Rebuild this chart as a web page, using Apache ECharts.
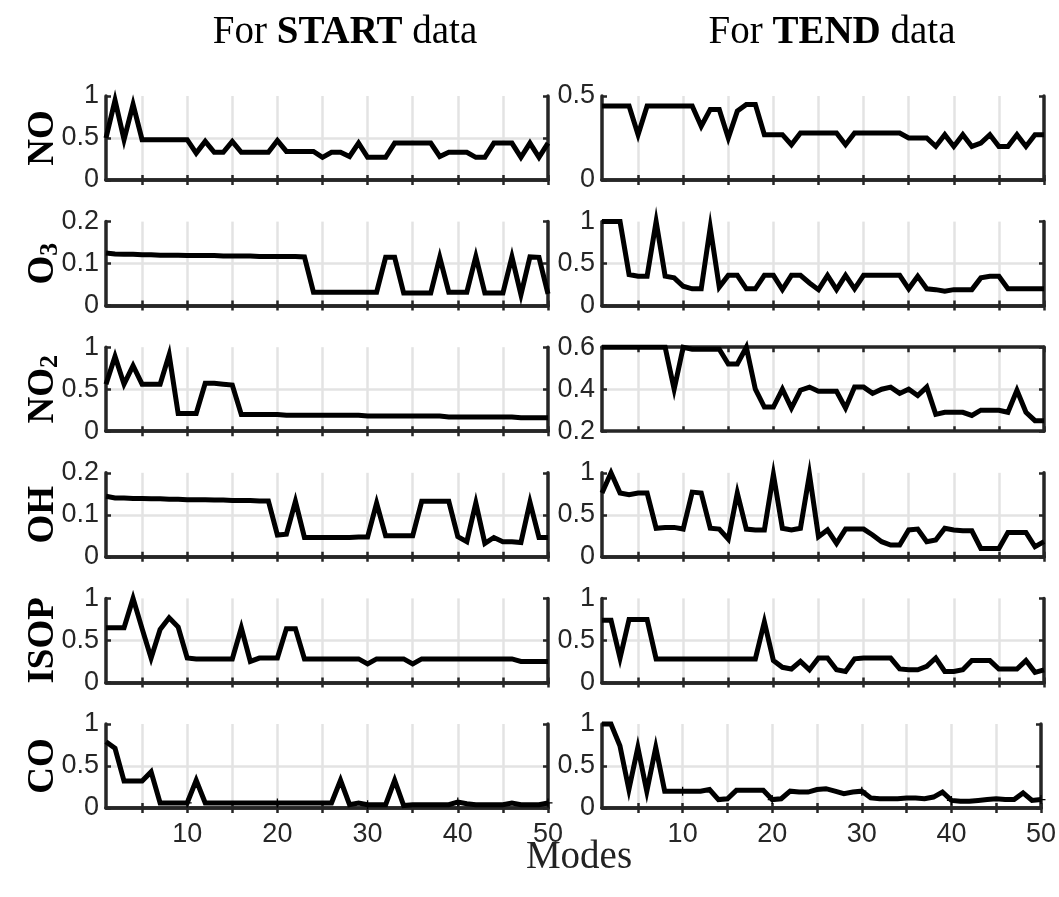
<!DOCTYPE html>
<html><head><meta charset="utf-8">
<script src="https://cdn.jsdelivr.net/npm/echarts@6/dist/echarts.min.js"></script>
<style>html,body{margin:0;padding:0;background:#fff}#c{width:1059px;height:897px}</style>
</head><body><div id="c"></div>
<script>
const modes = ['1','2','3','4','5','6','7','8','9','10','11','12','13','14','15','16','17','18','19','20','21','22','23','24','25','26','27','28','29','30','31','32','33','34','35','36','37','38','39','40','41','42','43','44','45','46','47','48','49','50'];
const columnTitles = ['START', 'TEND'];
const rowLabels = ['NO', 'O3', 'NO2', 'OH', 'ISOP', 'CO'];

const startNO = [0.50,0.95,0.48,0.90,0.48,0.48,0.48,0.48,0.48,0.48, 0.32,0.46,0.33,0.33,0.46,0.33,0.33,0.33,0.33,0.47, 0.34,0.34,0.34,0.34,0.27,0.33,0.33,0.28,0.44,0.27, 0.27,0.27,0.44,0.44,0.44,0.44,0.44,0.28,0.33,0.33, 0.33,0.27,0.27,0.44,0.44,0.44,0.27,0.44,0.27,0.44];
const startO3 = [0.125,0.123,0.122,0.122,0.121,0.121,0.120,0.120,0.120,0.119, 0.119,0.119,0.119,0.118,0.118,0.118,0.118,0.117,0.117,0.117, 0.117,0.117,0.116,0.032,0.032,0.032,0.032,0.032,0.032,0.032, 0.032,0.115,0.115,0.030,0.030,0.030,0.030,0.115,0.032,0.032, 0.032,0.117,0.030,0.030,0.030,0.116,0.026,0.116,0.115,0.028];
const startNO2 = [0.56,0.89,0.56,0.78,0.56,0.56,0.56,0.91,0.21,0.21, 0.21,0.57,0.57,0.56,0.55,0.20,0.20,0.20,0.20,0.20, 0.19,0.19,0.19,0.19,0.19,0.19,0.19,0.19,0.19,0.18, 0.18,0.18,0.18,0.18,0.18,0.18,0.18,0.18,0.17,0.17, 0.17,0.17,0.17,0.17,0.17,0.17,0.16,0.16,0.16,0.16];
const startOH = [0.144,0.140,0.140,0.139,0.139,0.138,0.138,0.137,0.137,0.136, 0.136,0.136,0.135,0.135,0.134,0.134,0.134,0.133,0.133,0.052, 0.054,0.132,0.046,0.046,0.046,0.046,0.046,0.046,0.047,0.047, 0.128,0.050,0.050,0.050,0.050,0.132,0.132,0.132,0.132,0.048, 0.036,0.128,0.032,0.046,0.036,0.036,0.034,0.130,0.046,0.046];
const startISOP = [0.65,0.65,0.65,1.00,0.64,0.29,0.63,0.77,0.66,0.29, 0.28,0.28,0.28,0.28,0.28,0.65,0.25,0.29,0.29,0.29, 0.64,0.64,0.28,0.28,0.28,0.28,0.28,0.28,0.28,0.22, 0.28,0.28,0.28,0.28,0.22,0.28,0.28,0.28,0.28,0.28, 0.28,0.28,0.28,0.28,0.28,0.28,0.25,0.25,0.25,0.25];
const startCO = [0.79,0.71,0.32,0.32,0.32,0.43,0.06,0.06,0.06,0.06, 0.33,0.06,0.06,0.06,0.06,0.06,0.06,0.06,0.06,0.06, 0.06,0.06,0.06,0.06,0.06,0.06,0.33,0.04,0.06,0.04, 0.04,0.04,0.33,0.03,0.04,0.04,0.04,0.04,0.04,0.07, 0.05,0.04,0.04,0.04,0.04,0.06,0.04,0.04,0.04,0.06];

const tendNO = [0.44,0.44,0.44,0.44,0.27,0.44,0.44,0.44,0.44,0.44, 0.44,0.32,0.42,0.42,0.25,0.41,0.45,0.45,0.27,0.27, 0.27,0.21,0.28,0.28,0.28,0.28,0.28,0.21,0.28,0.28, 0.28,0.28,0.28,0.28,0.25,0.25,0.25,0.20,0.27,0.20, 0.27,0.20,0.22,0.27,0.20,0.20,0.27,0.20,0.27,0.27];
const tendO3 = [1.00,1.00,1.00,0.37,0.35,0.35,1.00,0.35,0.33,0.23, 0.20,0.20,0.93,0.22,0.36,0.36,0.20,0.20,0.36,0.36, 0.19,0.36,0.36,0.27,0.19,0.36,0.19,0.36,0.20,0.36, 0.36,0.36,0.36,0.36,0.20,0.35,0.20,0.19,0.17,0.19, 0.19,0.19,0.33,0.35,0.35,0.20,0.20,0.20,0.20,0.20];
const tendNO2 = [0.60,0.60,0.60,0.60,0.60,0.60,0.60,0.60,0.40,0.60, 0.59,0.59,0.59,0.59,0.52,0.52,0.60,0.40,0.315,0.315, 0.40,0.31,0.395,0.41,0.39,0.39,0.39,0.31,0.41,0.41, 0.38,0.40,0.41,0.38,0.40,0.37,0.41,0.28,0.29,0.29, 0.29,0.275,0.30,0.30,0.30,0.29,0.395,0.29,0.25,0.25];
const tendOH = [0.76,1.00,0.76,0.74,0.76,0.76,0.34,0.35,0.35,0.33, 0.77,0.76,0.34,0.33,0.21,0.76,0.33,0.32,0.32,0.98, 0.34,0.32,0.34,0.98,0.24,0.32,0.16,0.33,0.33,0.33, 0.26,0.18,0.14,0.14,0.32,0.33,0.18,0.20,0.34,0.32, 0.31,0.31,0.10,0.10,0.10,0.29,0.29,0.29,0.12,0.18];
const tendISOP = [0.74,0.74,0.29,0.75,0.75,0.75,0.28,0.28,0.28,0.28, 0.28,0.28,0.28,0.28,0.28,0.28,0.28,0.28,0.72,0.26, 0.18,0.16,0.25,0.15,0.29,0.29,0.15,0.13,0.28,0.29, 0.29,0.29,0.29,0.16,0.15,0.15,0.19,0.29,0.13,0.13, 0.15,0.26,0.26,0.26,0.16,0.16,0.16,0.26,0.12,0.15];
const tendCO = [1.00,1.00,0.74,0.22,0.72,0.20,0.72,0.20,0.20,0.20, 0.20,0.20,0.22,0.10,0.11,0.21,0.21,0.21,0.21,0.10, 0.11,0.20,0.19,0.19,0.22,0.23,0.20,0.17,0.19,0.20, 0.12,0.11,0.11,0.11,0.12,0.12,0.11,0.13,0.19,0.09, 0.08,0.08,0.09,0.10,0.11,0.10,0.10,0.18,0.09,0.10];

// y-axis ranges [min, max, interval]
const startRanges = [[0,1,0.5],[0,0.2,0.1],[0,1,0.5],[0,0.2,0.1],[0,1,0.5],[0,1,0.5]];
const tendRanges  = [[0,0.5,0.5],[0,1,0.5],[0.2,0.6,0.2],[0,1,0.5],[0,1,0.5],[0,1,0.5]];

const startSeries = [startNO, startO3, startNO2, startOH, startISOP, startCO];
const tendSeries = [tendNO, tendO3, tendNO2, tendOH, tendISOP, tendCO];

const rowTops = [96, 221.6, 347.2, 472.8, 598.4, 724];
const rowH = 84;
const colLeft = [106, 602];
const colW = 442;
const frameColor = '#262626';
const gridColor = '#e3e3e3';
const tickFont = 'Liberation Sans';
const serif = 'Liberation Serif';
const plusPath = 'path://M0,3H7V4H0Z M3,0H4V7H3Z';

const grids = [], xAxes = [], yAxes = [], series = [];
let gi = 0;
for (let c = 0; c < 2; c++) {
  for (let r = 0; r < 6; r++) {
    const data = c === 0 ? startSeries[r] : tendSeries[r];
    const rng = c === 0 ? startRanges[r] : tendRanges[r];
    grids.push({left: colLeft[c], top: rowTops[r], width: colW, height: rowH, show: false, containLabel: false});
    const isBottom = r === 5;
    const tickStyle = {show: true, inside: true, length: 5, lineStyle: {color: frameColor, width: 2.5}};
    xAxes.push({
      type: 'category', gridIndex: gi, data: modes, boundaryGap: false, position: 'bottom',
      axisLine: {show: true, lineStyle: {color: frameColor, width: 3.5}},
      axisTick: Object.assign({interval: (i) => (i + 1) % 5 === 0}, tickStyle),
      axisLabel: {show: isBottom, interval: (i) => (i + 1) % 10 === 0, fontFamily: tickFont, fontSize: 27, color: frameColor, margin: 13},
      splitLine: {show: true, interval: (i) => (i + 1) % 5 === 0 && i !== 49, lineStyle: {color: gridColor, width: 2.5}}
    });
    xAxes.push({
      type: 'category', gridIndex: gi, data: modes, boundaryGap: false, position: 'top',
      axisLine: {show: true, lineStyle: {color: frameColor, width: 3.5}},
      axisTick: Object.assign({interval: (i) => (i + 1) % 5 === 0}, tickStyle),
      axisLabel: {show: false}, splitLine: {show: false}
    });
    yAxes.push({
      type: 'value', gridIndex: gi, min: rng[0], max: rng[1], interval: rng[2], position: 'left',
      axisLine: {show: true, lineStyle: {color: frameColor, width: 3.5}},
      axisTick: tickStyle,
      axisLabel: {show: true, fontFamily: tickFont, fontSize: 27, color: frameColor, margin: 7},
      splitLine: {show: true, showMinLine: false, showMaxLine: false, lineStyle: {color: gridColor, width: 2.5}}
    });
    yAxes.push({
      type: 'value', gridIndex: gi, min: rng[0], max: rng[1], interval: rng[2], position: 'right',
      axisLine: {show: true, lineStyle: {color: frameColor, width: 3.5}},
      axisTick: tickStyle, axisLabel: {show: false}, splitLine: {show: false}
    });
    series.push({
      type: 'line', xAxisIndex: 2 * gi, yAxisIndex: 2 * gi, data: data,
      symbol: plusPath, symbolSize: 9, showSymbol: true, clip: false,
      lineStyle: {color: '#000', width: 5, join: 'miter'},
      itemStyle: {color: '#000'}, z: 5
    });
    gi++;
  }
}

const graphics = [];
// column titles
const titleX = [345, 832];
for (let c = 0; c < 2; c++) {
  graphics.push({type: 'text', x: titleX[c], y: 33, style: {
    text: '{n|For }{b|' + columnTitles[c] + '}{n| data}',
    rich: {n: {fontFamily: serif, fontSize: 39, fill: '#000'}, b: {fontFamily: serif, fontSize: 39, fontWeight: 'bold', fill: '#000'}},
    align: 'center', verticalAlign: 'middle'}});
}
// row labels
const rowRich = {
  b: {fontFamily: serif, fontSize: 37, fontWeight: 'bold', fill: '#000', lineHeight: 40, verticalAlign: 'middle'},
  s: {fontFamily: serif, fontSize: 26, fontWeight: 'bold', fill: '#000', lineHeight: 22, verticalAlign: 'bottom'}
};
const rowText = ['{b|NO}', '{b|O}{s|3}', '{b|NO}{s|2}', '{b|OH}', '{b|ISOP}', '{b|CO}'];
for (let r = 0; r < 6; r++) {
  graphics.push({type: 'text', x: 43, y: rowTops[r] + rowH / 2, rotation: Math.PI / 2,
    style: {text: rowText[r], rich: rowRich, align: 'center', verticalAlign: 'middle'}});
}
graphics.push({type: 'text', x: 579, y: 858, style: {text: 'Modes', fontFamily: serif, fontSize: 39, fill: '#222', align: 'center', verticalAlign: 'middle'}});

const chart = echarts.init(document.getElementById('c'));
chart.setOption({
  animation: false,
  backgroundColor: '#fff',
  grid: grids, xAxis: xAxes, yAxis: yAxes, series: series,
  graphic: graphics
});
</script></body></html>
